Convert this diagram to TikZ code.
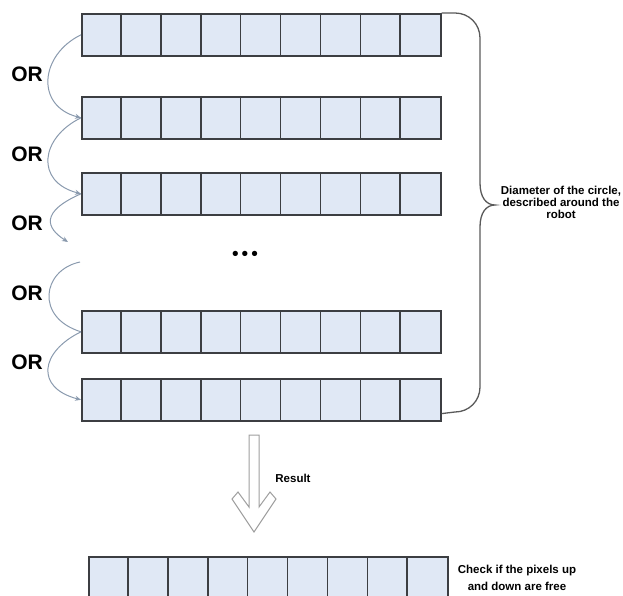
\documentclass[tikz,border=0pt]{standalone}
\usepackage{fontspec}
\setmainfont{Liberation Sans}
\newfontfamily\dotfont{DejaVu Sans}
\usetikzlibrary{calc,arrows.meta}
\definecolor{cellfill}{HTML}{E0E8F5}
\definecolor{cellline}{HTML}{3C3E42}
\definecolor{arrowcol}{HTML}{8A9AAE}
\definecolor{bracecol}{HTML}{5A5A5A}
\tikzset{
  rowbox/.style={draw=cellline, fill=cellfill, line width=1.6pt, minimum width=359pt, minimum height=42pt, inner sep=0pt, anchor=north west},
  celldiv/.style={draw=cellline, line width=1.6pt},
  orlabel/.style={font=\fontsize{21}{21}\selectfont\bfseries, inner sep=0pt},
  orarrow/.style={draw=arrowcol, line width=1pt, -{Stealth[length=6pt,width=5pt,fill=cellline!80]}},
  orline/.style={draw=arrowcol, line width=1pt},
  bracepath/.style={draw=bracecol, line width=1.3pt},
  smalltext/.style={font=\fontsize{11.5}{12}\selectfont\bfseries, align=center, inner sep=0pt},
  resultarrow/.style={draw=gray!75, fill=white, line width=1pt, line join=miter}
}
\begin{document}
\begin{tikzpicture}[x=1pt,y=-1pt]
\useasboundingbox (0,0) rectangle (623,596);
% rows
\foreach \n/\yy in {r1/13, r2/96, r3/172, r4/310, r5/378}{
  \node[rowbox] (\n) at (81,\yy) {};
  \foreach \i in {1,...,8}{
    \draw[celldiv] (81+\i*39.9,\yy) -- ++(0,42);
  }
}
\node[rowbox] (rb) at (88,556) {};
\foreach \i in {1,...,8}{
  \draw[celldiv] (88+\i*39.9,556) -- ++(0,42);
}
% dots
\node[font=\dotfont\fontsize{15}{15}\selectfont\bfseries, inner sep=0pt] (dots) at (245,255) {•••};
% OR labels
\node[orlabel] (or1) at (27,74) {OR};
\node[orlabel] (or2) at (27,154) {OR};
\node[orlabel] (or3) at (27,223) {OR};
\node[orlabel] (or4) at (27,293) {OR};
\node[orlabel] (or5) at (27,362) {OR};
% free ends
\coordinate (gapA) at (68,242);
\coordinate (gapB) at (80,262);
% OR arrows
\draw[orarrow] (r1.west) .. controls +(-41,20) and +(-46,-12) .. (r2.west);
\draw[orarrow] (r2.west) .. controls +(-41,20) and +(-46,-12) .. (r3.west);
\draw[orarrow] (r3.west) .. controls +(-41,18) and +(-22,-14) .. (gapA);
\draw[orline] (gapB) .. controls +(-38,8) and +(-46,-14) .. (r4.west);
\draw[orarrow] (r4.west) .. controls +(-41,20) and +(-46,-12) .. (r5.west);
% brace
\draw[bracepath] (r1.north east) -- (455,13) .. controls (469,13) and (480,24) .. (480,38) -- (480,183)
  .. controls (480,197) and (486,205) .. (495,205) .. controls (486,205) and (480,213) .. (480,227) -- (480,387)
  .. controls (480,401) and (469,412) .. (455,412) -- ($(r5.south east)+(0,-8)$);
\node[smalltext] (diam) at (561,202) {Diameter of the circle,\\described around the\\robot};
% result arrow
\draw[resultarrow] (249,435) -- (259,435) -- (259,507) -- (270,492) -- (276,499) -- (254,532)
  -- (232,499) -- (238,492) -- (249,507) -- cycle;
\node[smalltext] (res) at (293,478) {Result};
\node[smalltext, font=\fontsize{11.5}{16.5}\selectfont\bfseries] (check) at (517,578) {Check if the pixels up\\and down are free};
\end{tikzpicture}
\end{document}
